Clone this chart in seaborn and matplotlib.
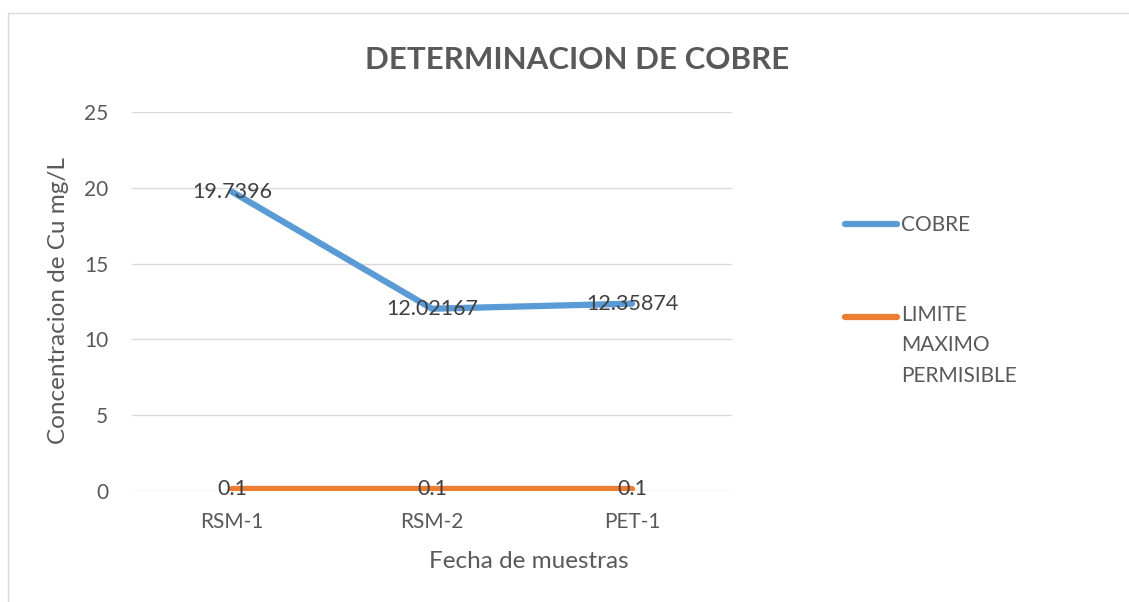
import matplotlib
matplotlib.use("Agg")
import matplotlib.pyplot as plt
import seaborn as sns
import pandas as pd
from matplotlib.lines import Line2D
from matplotlib.legend_handler import HandlerLine2D

# --------------------------------------------------------------
# Datos
# --------------------------------------------------------------
muestras = ["RSM-1", "RSM-2", "PET-1"]
cobre = [19.7396, 12.02167, 12.35874]
limite = [0.1, 0.1, 0.1]
series = ["COBRE", "LIMITE\nMAXIMO\nPERMISIBLE"]
colores = ["#5B9BD5", "#ED7D31"]
y_ticks = [0, 5, 10, 15, 20, 25]
etiquetas_cobre = ["19.7396", "12.02167", "12.35874"]
etiquetas_limite = ["0.1", "0.1", "0.1"]

df = pd.DataFrame({
    "muestra": muestras * 2,
    "valor": cobre + limite,
    "serie": [series[0]] * len(muestras) + [series[1]] * len(muestras),
})


# handle de leyenda alineado con la primera linea del texto (como Excel)
class HandlerPrimeraLinea(HandlerLine2D):
    def __init__(self, shift=0, **kw):
        super().__init__(**kw)
        self.shift = shift

    def create_artists(self, legend, orig_handle, xdescent, ydescent,
                       width, height, fontsize, trans):
        arts = super().create_artists(legend, orig_handle, xdescent, ydescent,
                                      width, height, fontsize, trans)
        for a in arts:
            a.set_ydata([y + self.shift for y in a.get_ydata()])
        return arts


# --------------------------------------------------------------
# Figura
# --------------------------------------------------------------
sns.set_theme(style="white")
plt.rcParams["font.family"] = ["Lato", "DejaVu Sans"]

W, H = 1129, 602
fig = plt.figure(figsize=(W / 100, H / 100), dpi=100)
ax = fig.add_axes([132 / W, 1 - 491 / H, 600 / W, 379 / H])

sns.lineplot(data=df, x="muestra", y="valor", hue="serie",
             palette=colores, linewidth=4.5, ax=ax,
             solid_capstyle="round")

ax.set_xlim(-0.5, len(muestras) - 0.5)
ax.set_ylim(0, 25)
ax.set_yticks(y_ticks)
ax.grid(axis="y", color="#D9D9D9", linewidth=1)
ax.set_axisbelow(True)
for s in ax.spines.values():
    s.set_visible(False)
ax.tick_params(axis="both", length=0, labelsize=15, labelcolor="#595959")
ax.tick_params(axis="y", pad=17)
ax.tick_params(axis="x", pad=15)

# etiquetas de datos
for i, (v, t) in enumerate(zip(cobre, etiquetas_cobre)):
    ax.text(i, v, t, ha="center", va="center", fontsize=15.5, color="#404040")
for i, (v, t) in enumerate(zip(limite, etiquetas_limite)):
    ax.text(i, v, t, ha="center", va="center", fontsize=15.5, color="#404040")

ax.set_xlabel("Fecha de muestras", fontsize=17.5, color="#595959", va="center")
ax.xaxis.set_label_coords((529 - 132) / 600, -(562 - 491) / 379)
ax.set_ylabel("Concentracion de Cu mg/L", fontsize=17.5, color="#595959", va="center")
ax.yaxis.set_label_coords((59 - 132) / 600, (491 - 301) / 379)

fig.text(577 / W, 1 - 60 / H, "DETERMINACION DE COBRE", ha="center", va="center",
         fontsize=22.5, fontweight="bold", color="#595959")

handles, labels = ax.get_legend_handles_labels()
ax.get_legend().remove()
leg = fig.legend(handles, labels, loc="upper left",
                 bbox_to_anchor=(845 / W, 1 - 215 / H),
                 frameon=False, fontsize=15, labelcolor="#595959",
                 handlelength=2.5, handletextpad=0.2, labelspacing=3.34,
                 borderpad=0, borderaxespad=0,
                 handler_map={handles[1]: HandlerPrimeraLinea(shift=21.2)})
for t in leg.get_texts():
    t.set_linespacing(1.67)

# borde del grafico
fig.add_artist(Line2D([8 / W, 1], [1 - 13 / H, 1 - 13 / H], color="#D9D9D9", linewidth=1))
fig.add_artist(Line2D([8 / W, 8 / W], [0, 1 - 13 / H], color="#D9D9D9", linewidth=1))

fig.savefig("out.png", dpi=100)
